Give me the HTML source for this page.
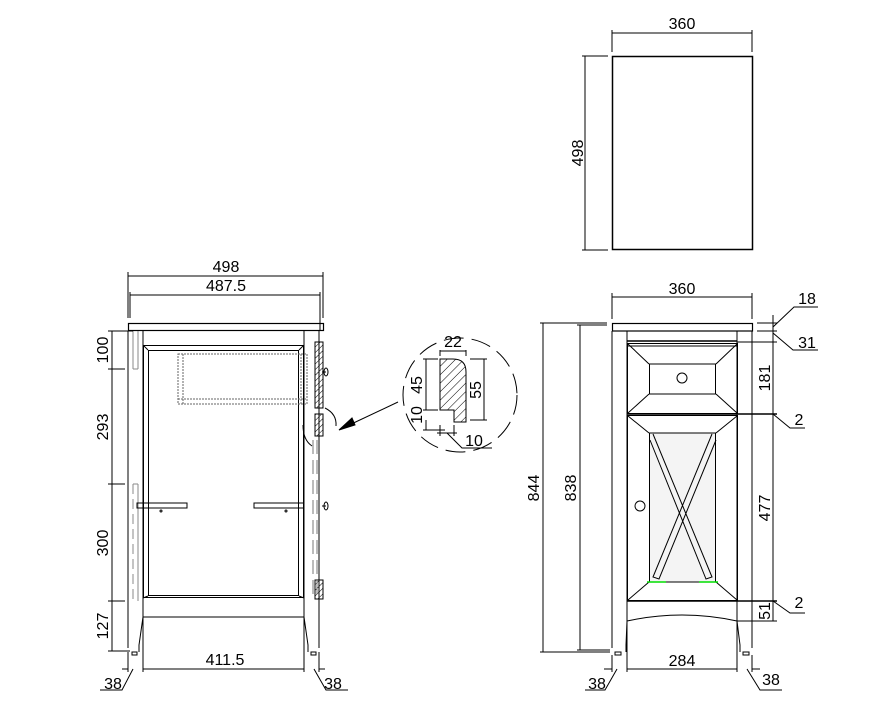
<!DOCTYPE html>
<html><head><meta charset="utf-8"><style>
html,body{margin:0;padding:0;background:#fff;}
svg{display:block;}
text{font-family:"Liberation Sans",Arial,sans-serif;font-size:16px;fill:#000;}
</style></head><body>
<svg width="885" height="718" viewBox="0 0 885 718" xmlns="http://www.w3.org/2000/svg">
<defs>
<pattern id="h" width="4" height="4" patternUnits="userSpaceOnUse" patternTransform="rotate(45)"><line x1="0" y1="0" x2="0" y2="4" stroke="#000" stroke-width="1"/></pattern>
<pattern id="h2" width="6" height="6" patternUnits="userSpaceOnUse" patternTransform="rotate(45)"><line x1="0" y1="0" x2="0" y2="6" stroke="#000" stroke-width="1"/></pattern>
</defs>
<g fill="none" stroke="#000" stroke-width="1">
<rect x="612.5" y="56.5" width="140" height="193" stroke-width="1.5"/>
<line x1="612" y1="33" x2="752" y2="33"/>
<line x1="612" y1="30" x2="612" y2="52"/><line x1="752" y1="30" x2="752" y2="52"/>
<line x1="585" y1="56" x2="585" y2="250"/>
<line x1="582" y1="56" x2="608" y2="56"/><line x1="582" y1="250" x2="608" y2="250"/>

<line x1="128" y1="276" x2="323" y2="276"/>
<line x1="130" y1="295" x2="320" y2="295"/>
<line x1="128" y1="272" x2="128" y2="318"/><line x1="323" y1="272" x2="323" y2="318"/>
<line x1="130" y1="292" x2="130" y2="318"/><line x1="320" y1="292" x2="320" y2="330"/>
<rect x="128.5" y="323.5" width="195" height="7" stroke-width="1.2"/>
<line x1="128" y1="331" x2="128" y2="648"/>
<line x1="143" y1="331" x2="143" y2="652"/>
<line x1="304" y1="331" x2="304" y2="652"/>
<line x1="319" y1="331" x2="319" y2="648"/>
<rect x="143.5" y="345.5" width="160" height="252"/>
<rect x="148.5" y="350.5" width="150" height="245"/>
<line x1="143" y1="345" x2="148" y2="350"/><line x1="304" y1="345" x2="299" y2="350"/>
<line x1="143" y1="598" x2="148" y2="596"/><line x1="304" y1="598" x2="299" y2="596"/>
<line x1="143" y1="617" x2="304" y2="617"/>
<path d="M143 617 L139 645 L139 652 M304 617 L308 645 L308 652"/>
<rect x="132" y="652" width="5" height="3"/><rect x="311" y="652" width="5" height="3"/>
<line x1="133" y1="331" x2="133" y2="369" stroke="#888"/><line x1="133" y1="369" x2="138" y2="369" stroke="#888"/>
<line x1="133" y1="484" x2="138" y2="484" stroke="#888"/>
<line x1="133" y1="484" x2="133" y2="601" stroke="#888" stroke-dasharray="10,5"/>
<line x1="138" y1="331" x2="138" y2="369" stroke="#888"/>
<line x1="138" y1="484" x2="138" y2="601" stroke="#888"/>
<g stroke="#666" stroke-dasharray="2,1">
<rect x="178" y="354" width="129" height="50"/>
<line x1="183" y1="354" x2="183" y2="404"/>
<line x1="178" y1="399" x2="307" y2="399"/>
<line x1="301" y1="354" x2="301" y2="404"/>
</g>
<rect x="137" y="503" width="50" height="5"/>
<rect x="254" y="503" width="50" height="5"/>
<circle cx="161" cy="511" r="1"/><circle cx="286" cy="511" r="1"/>
<rect x="315" y="342" width="8" height="66" fill="url(#h)"/>
<rect x="315" y="414" width="8" height="22" fill="url(#h)"/>
<rect x="315" y="580" width="8" height="19" fill="url(#h)"/>
<path d="M322 372 h4 M326 368 a2 4 0 1 1 0 8 a2 4 0 1 1 0 -8"/>
<path d="M322 506 h4 M326 502 a2 4 0 1 1 0 8 a2 4 0 1 1 0 -8"/>
<g stroke="#777" stroke-dasharray="14,6"><line x1="313" y1="440" x2="313" y2="595"/><line x1="317" y1="440" x2="317" y2="595"/></g>
<path d="M303 425 Q303 440 312 446"/>
<path d="M325 408 Q337 414 336 426"/>
<line x1="112" y1="331" x2="112" y2="651"/>
<line x1="108" y1="331" x2="133" y2="331"/><line x1="108" y1="369" x2="125" y2="369"/>
<line x1="108" y1="484" x2="125" y2="484"/><line x1="108" y1="601" x2="125" y2="601"/>
<line x1="108" y1="651" x2="130" y2="651"/>
<line x1="143" y1="669" x2="304" y2="669"/>
<line x1="143" y1="652" x2="143" y2="672"/><line x1="304" y1="652" x2="304" y2="672"/>
<line x1="128" y1="652" x2="128" y2="672"/><line x1="319" y1="652" x2="319" y2="672"/>
<path d="M128 669 h-6 M319 669 h6"/>
<path d="M133 669 L122 690 L100 690 M314 669 L326 690 L348 690"/>

<g stroke-dasharray="20,8"><circle cx="460" cy="395" r="57"/></g>
<path d="M440 359 H453 Q466 359 466 372 V422 H454 V410 H440 Z" fill="url(#h2)"/>
<line x1="440" y1="350" x2="440" y2="356"/><line x1="466" y1="350" x2="466" y2="356"/>
<line x1="440" y1="351" x2="466" y2="351"/>
<line x1="426" y1="359" x2="426" y2="410"/><line x1="423" y1="359" x2="438" y2="359"/><line x1="423" y1="410" x2="438" y2="410"/>
<line x1="426" y1="420" x2="426" y2="430"/><line x1="423" y1="430" x2="445" y2="430"/>
<line x1="484" y1="359" x2="484" y2="420"/><line x1="470" y1="359" x2="487" y2="359"/><line x1="470" y1="420" x2="487" y2="420"/>
<line x1="440" y1="425" x2="440" y2="436"/><line x1="454" y1="425" x2="454" y2="436"/>
<line x1="437" y1="433" x2="457" y2="433"/>
<path d="M447 433 L462 448 L492 448"/>
<line x1="398" y1="402" x2="345" y2="427"/>
<path d="M339 430 L352 418 L355 425 Z" fill="#000"/>

<rect x="612.5" y="323.5" width="140" height="7.5" stroke-width="1.2"/>
<line x1="612" y1="331" x2="612" y2="648"/>
<line x1="627" y1="331" x2="627" y2="652"/>
<line x1="737" y1="331" x2="737" y2="652"/>
<line x1="752" y1="331" x2="752" y2="648"/>
<line x1="627" y1="341" x2="737" y2="341" stroke-width="1.5"/>
<rect x="627.5" y="343.5" width="110" height="70"/>
<rect x="649.5" y="364" width="66" height="30"/>
<path d="M628 344 L649 364 M737 344 L716 364 M628 413 L649 394 M737 413 L716 394"/>
<line x1="627" y1="346" x2="737" y2="346"/>
<circle cx="682" cy="378" r="5"/>
<line x1="627" y1="414" x2="737" y2="414" stroke-width="1.5"/>
<rect x="627.5" y="415.5" width="110" height="185"/>
<rect x="649.5" y="433" width="66" height="149" fill="#f4f4f4"/>
<path d="M628 416 L649 433 M737 416 L716 433 M628 600 L649 582 M737 600 L716 582"/>
<path d="M653 434 L712 577 L706 579 L650 440 M712 434 L653 577 L659 579 L716 440"/>
<circle cx="640" cy="506" r="5"/>
<g stroke="#00dd00" stroke-width="1.5"><line x1="647" y1="582" x2="666" y2="582"/><line x1="699" y1="582" x2="718" y2="582"/></g>
<line x1="627" y1="601" x2="737" y2="601" stroke-width="1.5"/>
<path d="M627 621 Q682 609 737 621"/>
<path d="M627 621 L626 645 L626 652 M737 621 L740 645 L740 652"/>
<rect x="615" y="652" width="6" height="3"/><rect x="743" y="652" width="6" height="3"/>
<line x1="612" y1="297" x2="752" y2="297"/>
<line x1="612" y1="293" x2="612" y2="319"/><line x1="752" y1="293" x2="752" y2="319"/>
<line x1="543" y1="323" x2="543" y2="652"/>
<line x1="540" y1="323" x2="607" y2="323"/><line x1="540" y1="652" x2="610" y2="652"/>
<line x1="580" y1="325" x2="580" y2="650"/>
<line x1="577" y1="325" x2="607" y2="325"/><line x1="577" y1="650" x2="610" y2="650"/>
<line x1="773" y1="315" x2="773" y2="621"/>
<line x1="757" y1="323" x2="777" y2="323"/><line x1="757" y1="331" x2="777" y2="331"/>
<line x1="737" y1="342" x2="777" y2="342"/>
<line x1="737" y1="414" x2="777" y2="414" stroke-width="1.5"/>
<line x1="737" y1="601" x2="777" y2="601" stroke-width="1.5"/>
<line x1="737" y1="621" x2="777" y2="621"/>
<path d="M773 327 L794 307 L818 307"/>
<path d="M773 333 L793 350 L818 350"/>
<path d="M773 414 L790 428 L805 428"/>
<path d="M773 601 L790 613 L805 613"/>
<line x1="627" y1="669" x2="737" y2="669"/>
<line x1="612" y1="655" x2="612" y2="672"/><line x1="627" y1="652" x2="627" y2="672"/>
<line x1="737" y1="652" x2="737" y2="672"/><line x1="752" y1="655" x2="752" y2="672"/>
<path d="M612 669 h-8 M752 669 h8"/>
<path d="M617 669 L605 690 L585 690 M747 669 L760 690 L782 690"/>
</g>
<g>
<text x="682" y="29" text-anchor="middle">360</text>
<text transform="translate(583 153) rotate(-90)" text-anchor="middle">498</text>
<text x="226" y="272" text-anchor="middle">498</text>
<text x="226" y="291" text-anchor="middle">487.5</text>
<text transform="translate(108 350) rotate(-90)" text-anchor="middle">100</text>
<text transform="translate(108 427) rotate(-90)" text-anchor="middle">293</text>
<text transform="translate(108 543) rotate(-90)" text-anchor="middle">300</text>
<text transform="translate(108 626) rotate(-90)" text-anchor="middle">127</text>
<text x="225" y="665" text-anchor="middle">411.5</text>
<text x="113" y="689" text-anchor="middle">38</text>
<text x="333" y="689" text-anchor="middle">38</text>
<text x="453" y="347" text-anchor="middle">22</text>
<text transform="translate(422 385) rotate(-90)" text-anchor="middle">45</text>
<text transform="translate(422 415) rotate(-90)" text-anchor="middle">10</text>
<text transform="translate(481 390) rotate(-90)" text-anchor="middle">55</text>
<text x="474" y="446" text-anchor="middle">10</text>
<text x="682" y="294" text-anchor="middle">360</text>
<text transform="translate(539 488) rotate(-90)" text-anchor="middle">844</text>
<text transform="translate(576 488) rotate(-90)" text-anchor="middle">838</text>
<text transform="translate(770 378) rotate(-90)" text-anchor="middle">181</text>
<text transform="translate(770 508) rotate(-90)" text-anchor="middle">477</text>
<text transform="translate(770 611) rotate(-90)" text-anchor="middle">51</text>
<text x="807" y="304" text-anchor="middle">18</text>
<text x="807" y="348" text-anchor="middle">31</text>
<text x="799" y="425" text-anchor="middle">2</text>
<text x="799" y="608" text-anchor="middle">2</text>
<text x="682" y="666" text-anchor="middle">284</text>
<text x="597" y="689" text-anchor="middle">38</text>
<text x="771" y="685" text-anchor="middle">38</text>
</g>
</svg>
</body></html>
